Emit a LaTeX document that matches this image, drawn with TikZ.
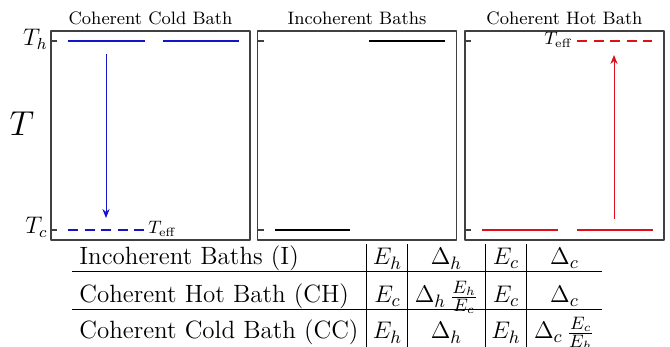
\documentclass[tikz,border=0pt]{standalone}
\usetikzlibrary{arrows.meta}
\definecolor{coldc}{RGB}{20,20,200}
\definecolor{hotc}{RGB}{225,15,25}
\begin{document}
\begin{tikzpicture}[x=0.5pt,y=-0.5pt,>={Stealth[length=4.5pt,width=3.6pt]},line join=round,
	lvl/.style={line width=1pt},
	dsh/.style={line width=1pt,dash pattern=on 5pt off 3.3pt},
	frm/.style={draw=black!75,line width=0.65pt},
	flash/.style={line width=0.5pt,->},
	ttl/.style={font=\fontsize{9}{11}\selectfont,inner sep=0pt,anchor=base},
	tk/.style={font=\fontsize{11.5}{13}\selectfont,inner sep=0pt,anchor=base east},
	teff/.style={font=\fontsize{9}{10}\selectfont,inner sep=0pt},
	cell/.style={font=\fontsize{12.5}{15}\selectfont,inner sep=0pt,anchor=base}]
	\useasboundingbox (0,0) rectangle (670,347);
	% panels
	\foreach \x/\n/\t in{51/C/Coherent Cold Bath,257.5/I/Incoherent Baths,465/H/Coherent Hot Bath}
		{\draw[frm] (\x,31) rectangle ++(199,209);
		\draw[frm] (\x,41)--++(6,0) (\x,230)--++(6,0);
		\node[ttl] (title\n) at (\x+99.5,25) {\t};}
	% axis
	\node[tk] (Th) at (48,46) {$T_h$};
	\node[tk] (Tc) at (48,234) {$T_c$};
	\node[font=\fontsize{17.5}{20}\selectfont,inner sep=0pt,anchor=base] (T) at (22,136) {$T$};
	\path
	(106,54) coordinate (C1) (106,218) coordinate (C2)
	(614,219) coordinate (H1) (614,55) coordinate (H2);
	% levels
	\draw[lvl,coldc] (68,41)--(145,41) (163,41)--(239,41);
	\draw[dsh,coldc] (68,230)--(145,230);
	\draw[lvl] (275,230)--(350,230) (369,41)--(445,41);
	\draw[lvl,hotc] (482,230)--(558,230) (577,230)--(653,230);
	\draw[dsh,hotc] (577,41)--(652,41);
	\node[teff,anchor=base west] (effC) at (148,234) {$T_{\mathrm{eff}}$};
	\node[teff,anchor=base east] (effH) at (573,45) {$T_{\mathrm{eff}}$};
	\draw[flash,coldc] (C1)--(C2);
	\draw[flash,hotc] (H1)--(H2);
	% table
	\foreach \r/\y/\p/\q/\s/\u/\w in{1/265/Incoherent Baths (I)/E_h/\Delta_h/E_c/\Delta_c,
		2/303/Coherent Hot Bath (CH)/E_c/\Delta_h\,\frac{E_h}{E_c}/E_c/\Delta_c,
		3/339/Coherent Cold Bath (CC)/E_h/\Delta_h/E_h/\Delta_c\,\frac{E_c}{E_h}}
		{\node[cell,anchor=base west] (c\r-1) at (79,\y) {\p};
		\foreach \x/\k/\v in{387.5/2/\q,446.5/3/\s,506/4/\u,564.5/5/\w}
		\node[cell] (c\r-\k) at (\x,\y) {$\v$};}
	\draw[line width=0.5pt] (72,272)--(602,272) (72,310)--(602,310);
	\foreach \x in{366.7,407.7,485,526.7}
	\draw[line width=0.5pt] (\x,244)--(\x,347);
\end{tikzpicture}
\end{document}
